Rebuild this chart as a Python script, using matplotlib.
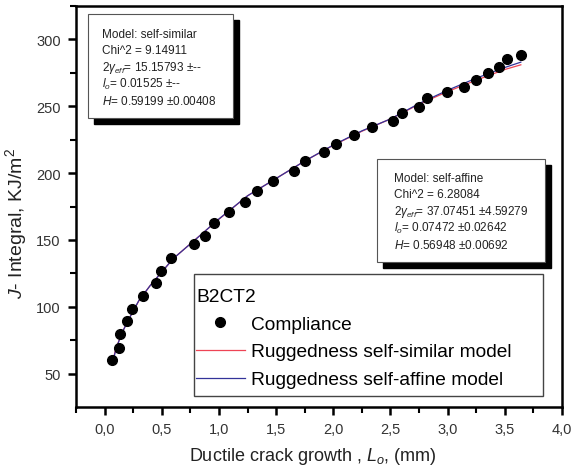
import matplotlib
matplotlib.use("Agg")
import matplotlib.pyplot as plt
from matplotlib.patches import Rectangle
from matplotlib.transforms import IdentityTransform

plt.rcParams['font.family'] = ['Liberation Sans', 'DejaVu Sans']
plt.rcParams['mathtext.fontset'] = 'custom'
plt.rcParams['mathtext.rm'] = 'Liberation Sans'
plt.rcParams['mathtext.it'] = 'Liberation Sans:italic'
plt.rcParams['mathtext.bf'] = 'Liberation Sans:bold'

# ---- data ----
crack_growth = [0.064, 0.125, 0.134, 0.20, 0.24, 0.335, 0.45, 0.49, 0.58, 0.78,
                0.875, 0.96, 1.09, 1.23, 1.33, 1.47, 1.66, 1.75, 1.915, 2.02,
                2.18, 2.34, 2.52, 2.60, 2.75, 2.82, 2.99, 3.14, 3.25, 3.35,
                3.45, 3.52, 3.64]
j_integral = [60.2, 69.4, 79.3, 89.0, 98.5, 108.0, 117.7, 126.6, 136.3, 146.8,
              153.2, 162.7, 171.1, 178.6, 186.6, 194.3, 201.5, 209.0, 215.4, 221.9,
              228.6, 234.6, 238.8, 244.8, 249.8, 256.0, 260.7, 264.4, 269.6, 274.6,
              279.3, 285.0, 288.6]

model_x = [0.07, 0.10, 0.15, 0.20, 0.30, 0.40, 0.50, 0.60, 0.80, 1.00, 1.25,
           1.50, 1.75, 2.00, 2.25, 2.50, 2.75, 3.00, 3.25, 3.50, 3.64]
self_similar = [59.0, 69.0, 80.0, 89.0, 104.5, 116.0, 126.0, 136.0, 150.8, 165.5,
                183.0, 196.0, 209.0, 220.8, 231.3, 240.5, 251.5, 261.0, 269.5, 277.5, 281.0]
self_affine = [58.0, 68.5, 80.0, 88.8, 104.7, 116.0, 126.0, 136.0, 150.7, 165.7,
               183.0, 196.0, 209.0, 221.0, 231.6, 240.5, 252.0, 262.0, 271.0, 279.0, 283.0]

x_ticks = [0.0, 0.5, 1.0, 1.5, 2.0, 2.5, 3.0, 3.5, 4.0]
x_ticklabels = ['0,0', '0,5', '1,0', '1,5', '2,0', '2,5', '3,0', '3,5', '4,0']
y_ticks = [50, 100, 150, 200, 250, 300]

box1_lines = ["Model: self-similar", "Chi^2 = 9.14911",
              r"$2\gamma_{eff}$= 15.15793 ±--", r"$l_o$= 0.01525 ±--",
              r"$H$= 0.59199 ±0.00408"]
box2_lines = ["Model: self-affine", "Chi^2 = 6.28084",
              r"$2\gamma_{eff}$= 37.07451 ±4.59279", r"$l_o$= 0.07472 ±0.02642",
              r"$H$= 0.56948 ±0.00692"]

W, H = 574, 477
fig = plt.figure(figsize=(W / 100, H / 100), dpi=100)
ax = fig.add_axes([76 / W, 1 - 408 / H, (562 - 76) / W, (408 - 7) / H])

ax.plot(model_x, self_similar, color='#ee4455', lw=0.9, label='Ruggedness self-similar model', zorder=2)
ax.plot(model_x, self_affine, color='#333399', lw=0.9, label='Ruggedness self-affine model', zorder=2)
ax.plot(crack_growth, j_integral, 'o', color='black', ms=7, label='Compliance', zorder=3)

ax.set_xlim(-0.25, 4.0)
ax.set_ylim(25, 325)
ax.set_xticks(x_ticks)
ax.set_xticklabels(x_ticklabels)
ax.set_xticks([-0.25 + 0.5 * i for i in range(9)], minor=True)
ax.set_yticks(y_ticks)
ax.set_yticks([75, 125, 175, 225, 275, 325], minor=True)
ax.tick_params(which='major', direction='out', length=6, width=1.8, labelsize=10.5,
               labelcolor='#333333', pad=5)
ax.tick_params(which='minor', direction='out', length=4, width=1.5)
for s in ax.spines.values():
    s.set_linewidth(1.8)

fig.text(313 / W, 1 - 457 / H, "Ductile crack growth , $L_o$, (mm)", fontsize=13,
         color='#222222', ha='center', va='center')
fig.text(16 / W, 1 - 223 / H, "$J$- Integral, KJ/m$^2$", fontsize=14,
         color='#222222', ha='center', va='center', rotation=90)

# legend frame
ax.add_patch(Rectangle((194, H - 397), 543 - 194, 397 - 275, transform=IdentityTransform(),
                       facecolor='white', edgecolor='#444444', lw=1.0, zorder=4,
                       clip_on=False))

handles, labels = ax.get_legend_handles_labels()
order = [2, 0, 1]
leg = ax.legend([handles[i] for i in order], [labels[i] for i in order],
                title='B2CT2', title_fontsize=13.8, fontsize=13.8,
                loc='center left',
                bbox_to_anchor=(195 / W, 1 - 339 / H),
                bbox_transform=fig.transFigure, borderaxespad=0,
                frameon=False,
                handlelength=2.55, handletextpad=0.3, borderpad=0.05,
                labelspacing=0.55, alignment='left')
leg.set_zorder(8)


def stat_box(x0, y0, x1, y1, lines, fs, tx, ty):
    fig.patches.append(Rectangle((x0 + 6, H - y1 - 6), x1 - x0, y1 - y0,
                                 transform=None, facecolor='black', edgecolor='black',
                                 zorder=5))
    fig.patches.append(Rectangle((x0, H - y1), x1 - x0, y1 - y0,
                                 transform=None, facecolor='white', edgecolor='#555555',
                                 lw=0.8, zorder=6))
    step = 16.8
    for i, t in enumerate(lines):
        fig.text((x0 + tx) / W, 1 - (y0 + ty + i * step) / H, t, fontsize=fs,
                 va='center', ha='left', color='#222222', zorder=7)


stat_box(88, 15, 233, 119, box1_lines, 8.5, 14, 19.5)
stat_box(377, 160, 545, 263, box2_lines, 8.5, 17.5, 18.5)

fig.savefig('out.png', dpi=100)
